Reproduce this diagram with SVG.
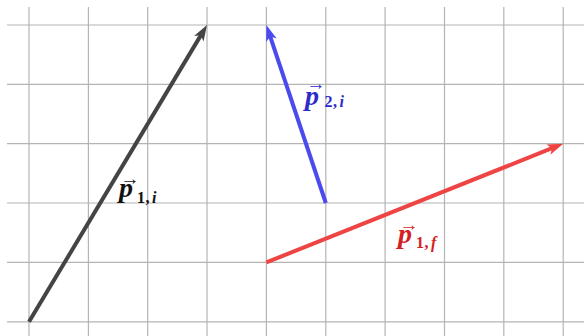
<svg xmlns="http://www.w3.org/2000/svg" width="584" height="336" viewBox="0 0 584 336">
<style>
.grid line{stroke:#b4b4b4;stroke-width:1.2}
.vec{stroke-width:4;fill:none;stroke-linecap:butt}
.lbl{font-family:"Liberation Serif","DejaVu Serif",serif;font-weight:bold}
.p{font-style:italic;font-size:28px}
.sub{font-size:16px}
.it{font-style:italic}
.acc{font-size:19px;text-anchor:middle}
</style>
<defs>
<marker id="ah-k" markerUnits="userSpaceOnUse" orient="auto" refX="0" refY="0" markerWidth="20" markerHeight="20" overflow="visible"><path d="M8,0 L-8,-5.5 L-4,0 L-8,5.5 Z" fill="#444"/></marker>
<marker id="ah-b" markerUnits="userSpaceOnUse" orient="auto" refX="0" refY="0" markerWidth="20" markerHeight="20" overflow="visible"><path d="M8,0 L-8,-5.5 L-4,0 L-8,5.5 Z" fill="#4a4aee"/></marker>
<marker id="ah-r" markerUnits="userSpaceOnUse" orient="auto" refX="0" refY="0" markerWidth="20" markerHeight="20" overflow="visible"><path d="M8,0 L-8,-5.5 L-4,0 L-8,5.5 Z" fill="#ee4444"/></marker>
</defs>
<rect width="584" height="336" fill="#fff"/>
<g class="grid">
<line x1="29" y1="7" x2="29" y2="336"/>
<line x1="88.4" y1="7" x2="88.4" y2="336"/>
<line x1="147.7" y1="7" x2="147.7" y2="336"/>
<line x1="207" y1="7" x2="207" y2="336"/>
<line x1="266.4" y1="7" x2="266.4" y2="336"/>
<line x1="325.8" y1="7" x2="325.8" y2="336"/>
<line x1="385.1" y1="7" x2="385.1" y2="336"/>
<line x1="444.5" y1="7" x2="444.5" y2="336"/>
<line x1="503.8" y1="7" x2="503.8" y2="336"/>
<line x1="563.2" y1="7" x2="563.2" y2="336"/>
<line x1="7" y1="25" x2="584" y2="25"/>
<line x1="7" y1="84.4" x2="584" y2="84.4"/>
<line x1="7" y1="143.7" x2="584" y2="143.7"/>
<line x1="7" y1="203" x2="584" y2="203"/>
<line x1="7" y1="262.4" x2="584" y2="262.4"/>
<line x1="7" y1="321.8" x2="584" y2="321.8"/>
</g>
<g id="connectors">
<line id="p1i" class="vec" x1="29" y1="321.8" x2="202.9" y2="31.9" stroke="#444" marker-end="url(#ah-k)"/>
<line id="p2i" class="vec" x1="325.8" y1="203" x2="268.9" y2="32.6" stroke="#4a4aee" marker-end="url(#ah-b)"/>
<line id="p1f" class="vec" x1="266.4" y1="262.4" x2="555.8" y2="146.7" stroke="#ee4444" marker-end="url(#ah-r)"/>
</g>
<g id="label-p1i" fill="#111">
<text class="lbl"><tspan class="acc" x="130" y="185">→</tspan><tspan class="p" x="119" y="197">p</tspan><tspan class="sub" x="137" y="203">1</tspan><tspan class="sub" x="145.5" y="203">,</tspan><tspan class="sub it" x="152" y="203">i</tspan></text>
</g>
<g id="label-p2i" fill="#2b2bcc">
<text class="lbl"><tspan class="acc" x="316" y="90">→</tspan><tspan class="p" x="305" y="104.5">p</tspan><tspan class="sub" x="324.5" y="107">2</tspan><tspan class="sub" x="333" y="107">,</tspan><tspan class="sub it" x="339.5" y="107">i</tspan></text>
</g>
<g id="label-p1f" fill="#d42020">
<text class="lbl"><tspan class="acc" x="409" y="231">→</tspan><tspan class="p" x="398" y="243">p</tspan><tspan class="sub" x="416" y="248">1</tspan><tspan class="sub" x="424.5" y="248">,</tspan><tspan class="sub it" x="431" y="248">f</tspan></text>
</g>
</svg>
